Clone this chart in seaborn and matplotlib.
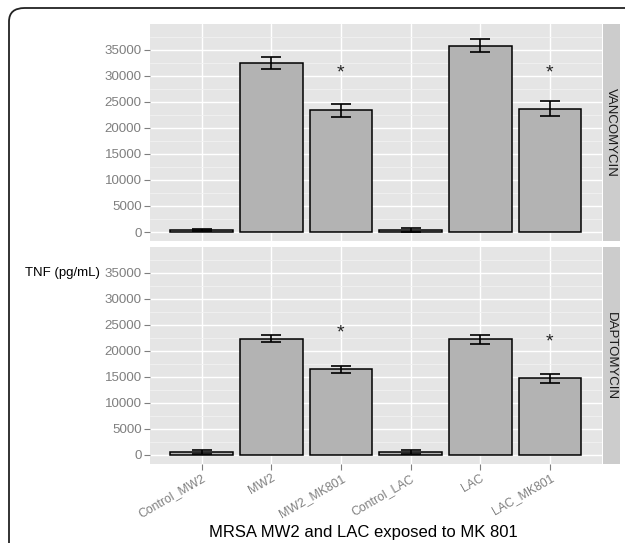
import numpy as np
import pandas as pd
import seaborn as sns
import matplotlib.pyplot as plt
from matplotlib.patches import FancyBboxPatch

groups = ['Control_MW2', 'MW2', 'MW2_MK801', 'Control_LAC', 'LAC', 'LAC_MK801']
drugs = ['VANCOMYCIN', 'DAPTOMYCIN']

vanco_mean = [350, 32400, 23350, 450, 35750, 23650]
vanco_err = [150, 1200, 1280, 380, 1280, 1440]
dapto_mean = [450, 22300, 16450, 500, 22200, 14700]
dapto_err = [380, 670, 700, 330, 890, 860]

star_groups = ['MW2_MK801', 'LAC_MK801']
vanco_star = [30600, 30600]
dapto_star = [23480, 21750]

df = pd.DataFrame({
    'group': groups * 2,
    'drug': [drugs[0]] * 6 + [drugs[1]] * 6,
    'tnf': vanco_mean + dapto_mean,
    'err': vanco_err + dapto_err,
})
stars = {drugs[0]: vanco_star, drugs[1]: dapto_star}

sns.set_theme(style='darkgrid')
plt.rcParams['font.family'] = ['Liberation Sans', 'DejaVu Sans']

W, H = 625, 543
fig = plt.figure(figsize=(W / 100, H / 100), dpi=100)

# rounded outer frame (clipped at right and bottom like the original)
frame = FancyBboxPatch((9 / W, -0.05), 1.1, 1 - 8 / H + 0.05,
                       boxstyle='round,pad=0,rounding_size=0.025',
                       transform=fig.transFigure, fill=False,
                       edgecolor='#222222', linewidth=1.3)
fig.patches.append(frame)

panels = [(24, 241.3), (247.3, 464)]
left, right = 150, 601.5

for i, drug in enumerate(drugs):
    top, bot = panels[i]
    ax = fig.add_axes([left / W, 1 - bot / H, (right - left) / W, (bot - top) / H])
    sub = df[df['drug'] == drug]
    sns.barplot(data=sub, x='group', y='tnf', order=groups, color='#B3B3B3',
                saturation=1, edgecolor='black', linewidth=1.1, width=0.9,
                errorbar=None, ax=ax, zorder=2)
    pos = np.arange(len(groups))
    ax.errorbar(pos, sub['tnf'].values, yerr=sub['err'].values, fmt='none',
                ecolor='black', elinewidth=1.2, capsize=7.2, capthick=1.2, zorder=3)
    for g, y in zip(star_groups, stars[drug]):
        ax.text(groups.index(g), y, '*', ha='center', va='center',
                fontsize=14, color='#222222', zorder=4)

    ax.set_facecolor('#E5E5E5')
    ax.set_xlim(-0.74, 5.74)
    ax.set_ylim(-1780, 39900)
    ax.set_yticks(np.arange(0, 35001, 5000))
    ax.set_yticks(np.arange(2500, 37501, 5000), minor=True)
    ax.grid(which='major', color='white', linewidth=1.0)
    ax.grid(which='minor', axis='y', color='#F2F2F2', linewidth=0.6)
    ax.set_axisbelow(True)
    for s in ax.spines.values():
        s.set_visible(False)
    ax.set_xlabel('')
    ax.set_ylabel('')
    ax.tick_params(axis='y', which='major', length=4, width=0.8, color='#7F7F7F',
                   labelcolor='#7F7F7F', labelsize=9.6, pad=2, left=True)
    ax.tick_params(axis='y', which='minor', length=0)
    if i == 0:
        ax.tick_params(axis='x', bottom=False, labelbottom=False)
    else:
        ax.tick_params(axis='x', length=4, width=0.8, color='#7F7F7F',
                       labelcolor='#7F7F7F', labelsize=8.8, pad=2, bottom=True)
        for lab in ax.get_xticklabels():
            lab.set_rotation(30)
            lab.set_ha('right')
            lab.set_rotation_mode('anchor')

    # facet strip on the right
    sax = fig.add_axes([602.7 / W, 1 - bot / H, 17.3 / W, (bot - top) / H])
    sax.set_facecolor('#CCCCCC')
    sax.set_xticks([])
    sax.set_yticks([])
    for s in sax.spines.values():
        s.set_visible(False)
    sax.text(0.5, 0.5, drug, rotation=-90, ha='center', va='center',
             fontsize=9.5, color='#1A1A1A', transform=sax.transAxes)

fig.text(100 / W, 1 - 273 / H, 'TNF (pg/mL)', ha='right', va='center',
         fontsize=9.5, color='black')
fig.text(363 / W, 1 - 532 / H, 'MRSA MW2 and LAC exposed to MK 801',
         ha='center', va='center', fontsize=12, color='black')

fig.savefig('out.png', dpi=100, facecolor='white')
